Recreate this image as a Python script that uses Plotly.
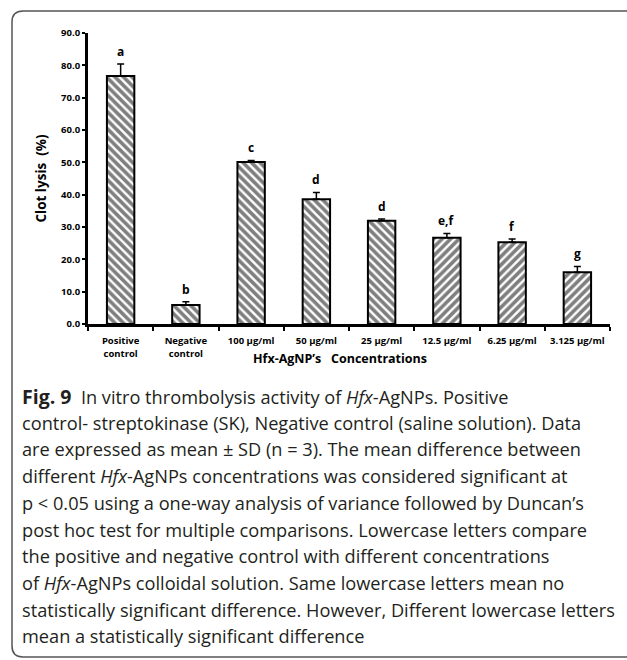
import plotly.graph_objects as go

categories = ["Positive<br>control", "Negative<br>control", "100 µg/ml", "50 µg/ml",
              "25 µg/ml", "12.5 µg/ml", "6.25 µg/ml", "3.125 µg/ml"]
values = [76.7, 5.9, 50.1, 38.6, 31.9, 26.7, 25.3, 16.0]
sd = [3.7, 1.0, 0.5, 2.1, 0.6, 1.3, 1.0, 1.8]
letters = ["a", "b", "c", "d", "d", "e,f", "f", "g"]
patterns = ["\\", "\\", "\\", "\\", "\\", "/", "/", "/"]
y_ticks = [0, 10, 20, 30, 40, 50, 60, 70, 80, 90]

caption_lines = [
    "<span style='font-size:19.5px'><b>Fig. 9</b></span>  In vitro thrombolysis activity of <i>Hfx</i>-AgNPs. Positive",
    "control- streptokinase (SK), Negative control (saline solution). Data",
    "are expressed as mean ± SD (n = 3). The mean difference between",
    "different <i>Hfx</i>-AgNPs concentrations was considered significant at",
    "p < 0.05 using a one-way analysis of variance followed by Duncan’s",
    "post hoc test for multiple comparisons. Lowercase letters compare",
    "the positive and negative control with different concentrations",
    "of <i>Hfx</i>-AgNPs colloidal solution. Same lowercase letters mean no",
    "statistically significant difference. However, Different lowercase letters",
    "mean a statistically significant difference",
]

W, H = 627, 660
L, R, T, B = 88, 17, 33, 336  # plot area: x 88..610, y 33..324
PW, PH = W - L - R, H - T - B

def px(x):
    return (x - L) / PW

def py(y):
    return (H - B - y) / PH

fig = go.Figure()
fig.add_trace(go.Bar(
    x=categories, y=values, width=0.42,
    marker=dict(color="white", line=dict(color="black", width=2),
                pattern=dict(shape=patterns, fgcolor="black", bgcolor="white",
                             size=6, solidity=0.6)),
    error_y=dict(type="data", array=sd, arrayminus=[0] * len(sd), symmetric=False,
                 color="black", thickness=1.5, width=3.5),
    showlegend=False,
))

for c, v, s, t in zip(categories, values, sd, letters):
    fig.add_annotation(x=c, y=v + s, text="<b>%s</b>" % t, showarrow=False,
                       yanchor="bottom", yshift=2,
                       font=dict(family="Open Sans", size=12, color="black"))

fig.update_layout(
    width=W, height=H, margin=dict(l=L, r=R, t=T, b=B, pad=0),
    paper_bgcolor="white", plot_bgcolor="white",
    xaxis=dict(showline=True, linecolor="black", linewidth=3, ticks="outside",
               tickson="boundaries", ticklen=4, tickwidth=2, tickcolor="black",
               ticklabelstandoff=6,
               tickfont=dict(family="Open Sans", size=9.5, color="black", weight="bold"),
               showgrid=False, zeroline=False),
    yaxis=dict(range=[0, 90], tickvals=y_ticks, tickformat=".1f", showline=True,
               linecolor="black", linewidth=3, ticks="outside", ticklen=3,
               tickwidth=2, tickcolor="black", showgrid=False, zeroline=False,
               tickfont=dict(family="Open Sans", size=9.5, color="black", weight="bold"),
               title=dict(text="<b>Clot lysis  (%)</b>", standoff=12,
                          font=dict(family="Open Sans", size=13.5, color="black"))),
)

fig.add_annotation(xref="paper", yref="paper", x=px(340), y=py(369),
                   text="<b>Hfx-AgNP’s   Concentrations</b>", showarrow=False,
                   font=dict(family="Open Sans", size=12.5, color="black"))

y0, dy = 396, 26.7
for i, line in enumerate(caption_lines):
    fig.add_annotation(xref="paper", yref="paper", x=px(20), y=py(y0 + i * dy),
                       xanchor="left", yanchor="middle", text=line, showarrow=False,
                       font=dict(family="Open Sans", size=18.2, color="#231f20"))

# rounded frame
x0, x1, yt, yb, r = px(12), px(650), py(11), py(657), 11
rx, ry = r / PW, r / PH
path = (f"M {x1},{yt} L {x0 + rx},{yt} Q {x0},{yt} {x0},{yt - ry} "
        f"L {x0},{yb + ry} Q {x0},{yb} {x0 + rx},{yb} L {x1},{yb}")
fig.add_shape(type="path", xref="paper", yref="paper", path=path,
              line=dict(color="#555", width=1.5))

fig.write_html("out.html")
